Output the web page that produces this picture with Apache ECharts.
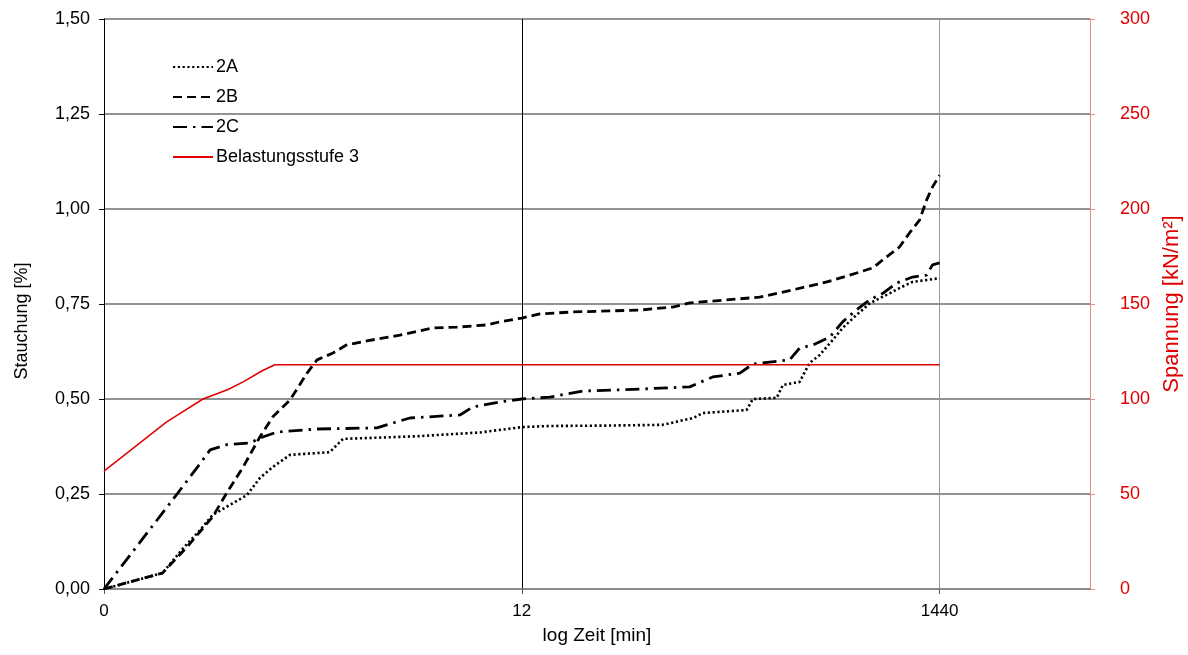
<!DOCTYPE html>
<html>
<head>
<meta charset="utf-8">
<script src="https://cdn.jsdelivr.net/npm/echarts@6/dist/echarts.min.js"></script>
<style>
html,body{margin:0;padding:0;background:#fff;}
#c{width:1188px;height:655px;}
</style>
</head>
<body>
<div id="c"></div>
<script>
// x positions are in log-axis units: 0 -> "0", 1 -> "12", 2 -> "1440"
const xTickLabels = ['0', '12', '1440'];

const a2X = [0, 0.14, 0.19, 0.23, 0.26, 0.342, 0.373, 0.404, 0.445, 0.54, 0.572, 0.75, 0.9, 1.0, 1.067, 1.2, 1.337, 1.41, 1.433, 1.538, 1.553, 1.61, 1.625, 1.665, 1.689, 1.713, 1.744, 1.768, 1.80, 1.833, 1.873, 1.904, 1.935, 2.0];
const a2Y = [0, 0.042, 0.108, 0.155, 0.195, 0.247, 0.292, 0.321, 0.353, 0.36, 0.395, 0.402, 0.412, 0.426, 0.429, 0.430, 0.432, 0.45, 0.463, 0.471, 0.5, 0.503, 0.537, 0.545, 0.595, 0.616, 0.655, 0.687, 0.72, 0.752, 0.774, 0.792, 0.808, 0.818];

const b2X = [0, 0.14, 0.199, 0.26, 0.294, 0.333, 0.373, 0.404, 0.445, 0.486, 0.51, 0.548, 0.58, 0.629, 0.708, 0.787, 0.844, 0.916, 0.947, 1.0, 1.043, 1.122, 1.282, 1.361, 1.402, 1.481, 1.569, 1.648, 1.73, 1.785, 1.84, 1.873, 1.904, 1.928, 1.952, 1.969, 1.983, 2.0];
const b2Y = [0, 0.042, 0.111, 0.19, 0.253, 0.321, 0.4, 0.453, 0.497, 0.568, 0.603, 0.621, 0.642, 0.653, 0.668, 0.687, 0.689, 0.695, 0.703, 0.713, 0.724, 0.729, 0.734, 0.742, 0.753, 0.76, 0.768, 0.787, 0.808, 0.826, 0.845, 0.874, 0.9, 0.937, 0.971, 1.024, 1.058, 1.089];

const c2X = [0, 0.177, 0.23, 0.254, 0.294, 0.349, 0.38, 0.414, 0.51, 0.653, 0.732, 0.852, 0.883, 0.947, 1.0, 1.067, 1.146, 1.282, 1.402, 1.457, 1.522, 1.553, 1.641, 1.665, 1.697, 1.737, 1.768, 1.80, 1.833, 1.864, 1.897, 1.935, 1.969, 1.983, 2.0];
const c2Y = [0, 0.253, 0.33, 0.366, 0.38, 0.384, 0.4, 0.413, 0.421, 0.424, 0.45, 0.458, 0.479, 0.492, 0.5, 0.505, 0.521, 0.526, 0.532, 0.558, 0.568, 0.592, 0.603, 0.634, 0.642, 0.663, 0.703, 0.734, 0.761, 0.778, 0.805, 0.821, 0.826, 0.853, 0.858];

const loadX = [0, 0.15, 0.237, 0.297, 0.333, 0.38, 0.409, 2.0];
const loadY = [62, 88, 100, 105, 109, 115, 118, 118];

function pairs(xs, ys) { return xs.map((x, i) => [x, ys[i]]); }

const FONT = 'Liberation Sans, Arial, sans-serif';
const NARROW = 'Liberation Sans Narrow, Liberation Sans, Arial, sans-serif';

const chart = echarts.init(document.getElementById('c'), null, {renderer: 'canvas'});
chart.setOption({
  animation: false,
  backgroundColor: '#fff',
  grid: {left: 104, right: 98, top: 19, bottom: 66, containLabel: false, outerBoundsMode: 'none'},
  legend: {
    orient: 'vertical', left: 172, top: 58, padding: 0,
    itemWidth: 40, itemHeight: 12, itemGap: 12,
    itemStyle: {opacity: 0},
    textStyle: {fontSize: 18, color: '#000', fontFamily: FONT, padding: [0, 0, 0, -2]},
    data: ['2A', '2B', '2C', 'Belastungsstufe 3']
  },
  xAxis: {
    type: 'value', min: 0, max: 2.36, interval: 1,
    name: 'log Zeit [min]', nameLocation: 'middle', nameGap: 37,
    nameTextStyle: {fontSize: 19, color: '#000', fontFamily: NARROW},
    axisLine: {show: true, lineStyle: {color: '#888', width: 1.5}},
    axisTick: {show: true, length: 5, lineStyle: {color: '#555'}},
    axisLabel: {
      fontSize: 17, color: '#000', fontFamily: NARROW, margin: 14,
      showMaxLabel: false,
      formatter: v => { const i = Math.round(v); return Math.abs(v - i) < 1e-6 && xTickLabels[i] !== undefined ? xTickLabels[i] : ''; }
    },
    splitLine: {show: true, lineStyle: {color: ['#000', '#000', '#999'], width: 1}}
  },
  yAxis: [
    {
      type: 'value', min: 0, max: 1.5, interval: 0.25,
      name: 'Stauchung [%]', nameLocation: 'middle', nameGap: 73,
      nameTextStyle: {fontSize: 18, color: '#000', fontFamily: FONT, padding: [0, 34, 0, 0]},
      axisLine: {show: true, lineStyle: {color: '#000', width: 1}},
      axisTick: {show: true, length: 5, lineStyle: {color: '#000'}},
      axisLabel: {fontSize: 18, color: '#000', fontFamily: FONT, margin: 14,
        formatter: v => v.toFixed(2).replace('.', ',')},
      splitLine: {show: true, lineStyle: {color: '#6e6e6e', width: 1.5}}
    },
    {
      type: 'value', min: 0, max: 300, interval: 50, position: 'right',
      name: 'Spannung [kN/m²]', nameLocation: 'middle', nameGap: 70,
      nameTextStyle: {fontSize: 22, color: '#e00000', fontFamily: FONT},
      axisLine: {show: true, lineStyle: {color: '#ec8a8a', width: 1}},
      axisTick: {show: true, length: 5, lineStyle: {color: '#ec8a8a'}},
      axisLabel: {fontSize: 18, color: '#e00000', fontFamily: FONT, margin: 30},
      splitLine: {show: false}
    }
  ],
  series: [
    {name: '2A', type: 'line', data: pairs(a2X, a2Y), symbol: 'none', showSymbol: false,
      lineStyle: {color: '#000', width: 2.6, type: [2.2, 2.6]}, itemStyle: {color: '#000'}},
    {name: '2B', type: 'line', data: pairs(b2X, b2Y), symbol: 'none', showSymbol: false,
      lineStyle: {color: '#000', width: 2.8, type: [9, 5]}, itemStyle: {color: '#000'}},
    {name: '2C', type: 'line', data: pairs(c2X, c2Y), symbol: 'none', showSymbol: false,
      lineStyle: {color: '#000', width: 2.8, type: [14, 6, 2.5, 6]}, itemStyle: {color: '#000'}},
    {name: 'Belastungsstufe 3', type: 'line', yAxisIndex: 1, data: pairs(loadX, loadY), symbol: 'none', showSymbol: false,
      lineStyle: {color: '#e00000', width: 1.5}, itemStyle: {color: '#e00000'}}
  ]
});
</script>
</body>
</html>
